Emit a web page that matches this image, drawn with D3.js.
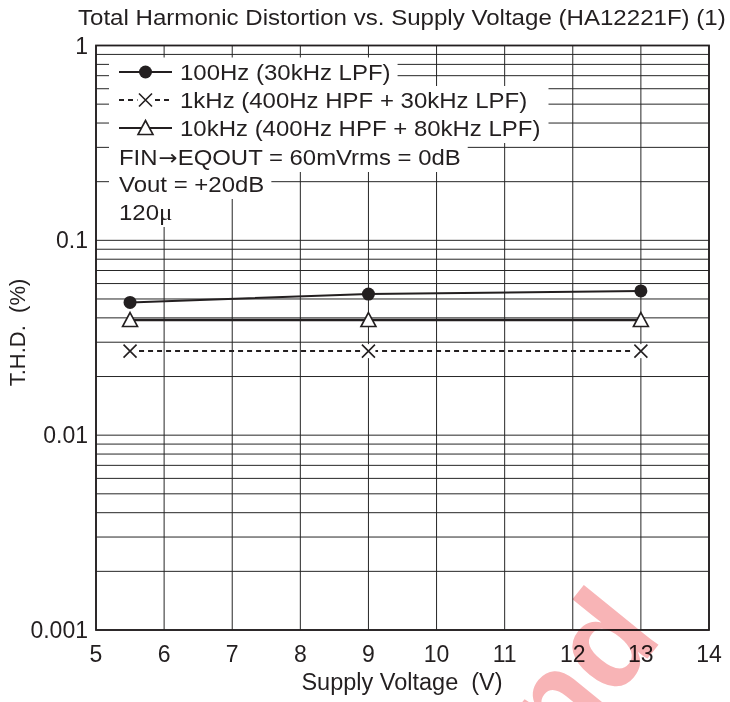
<!DOCTYPE html>
<html>
<head>
<meta charset="utf-8">
<script src="https://cdn.jsdelivr.net/npm/d3@7"></script>
<style>
  html, body { margin: 0; padding: 0; background: #fff; }
  svg { display: block; }
  text { font-family: "Liberation Sans", Arial, Helvetica, sans-serif; fill: #231f20; white-space: pre; }
</style>
</head>
<body>
<svg id="chart" width="730" height="702"></svg>
<script>
// ---- data ----
const voltages = [5.5, 9, 13];
const thd100Hz = [0.048, 0.053, 0.055];
const thd1kHz = [0.027, 0.027, 0.027];
const thd10kHz = [0.039, 0.039, 0.039];
const xTicks = [5, 6, 7, 8, 9, 10, 11, 12, 13, 14];
const yTicks = [0.001, 0.01, 0.1, 1];
const yTickLabels = ["0.001", "0.01", "0.1", "1"];
const seriesLabels = ["100Hz (30kHz LPF)", "1kHz (400Hz HPF + 30kHz LPF)", "10kHz (400Hz HPF + 80kHz LPF)"];
// note lines split in parts: [text, special-font flag]
const noteLines = [
  [["FIN", 0], ["\u2192", 1], ["EQOUT = 60mVrms = 0dB", 0]],
  [["Vout = +20dB", 0]],
  [["120", 0], ["\u03bc", 2]]
];
const titleText = "Total Harmonic Distortion vs. Supply Voltage (HA12221F) (1)";
const xLabel = "Supply Voltage  (V)";
const yLabel = "T.H.D.  (%)";

// ---- layout ----
const svg = d3.select("#chart");
const L = 96, R = 709, T = 45.5, B = 630;
const x = d3.scaleLinear().domain([5, 14]).range([L, R]);
const y = d3.scaleLog().domain([0.001, 1]).range([B, T]);
const ink = "#231f20";

function stretch(sel, f) {
  sel.each(function () {
    const w = this.getComputedTextLength();
    d3.select(this).attr("textLength", w * f).attr("lengthAdjust", "spacingAndGlyphs");
  });
}

// minor grid values
const minor = [];
for (let e = -3; e < 0; e++) {
  for (let m = 2; m <= 9; m++) minor.push(m * Math.pow(10, e));
}

const grid = svg.append("g");
grid.selectAll("line.h").data(minor.concat(yTicks)).join("line")
  .attr("x1", L).attr("x2", R)
  .attr("y1", d => y(d)).attr("y2", d => y(d))
  .attr("stroke", "#262626").attr("stroke-width", 1);
grid.selectAll("line.v").data(xTicks).join("line")
  .attr("x1", d => x(d)).attr("x2", d => x(d))
  .attr("y1", T).attr("y2", B)
  .attr("stroke", "#262626").attr("stroke-width", 1);

// ---- legend (white boxes cover grid) ----
const legend = svg.append("g");
const rowBase = [80, 108, 136, 165, 192, 220];
const fs = 22;
const rows = [];
seriesLabels.forEach((s, i) => rows.push({ parts: [[s, 0]], x: 180, base: rowBase[i] }));
noteLines.forEach((p, i) => rows.push({ parts: p, x: 119, base: rowBase[i + 3] }));

const boxG = legend.append("g");
const txtG = legend.append("g");
const texts = txtG.selectAll("text").data(rows).join("text")
  .attr("x", d => d.x).attr("y", d => d.base)
  .attr("font-size", fs);
texts.each(function (d) {
  const t = d3.select(this);
  d.parts.forEach(p => {
    const ts = t.append("tspan").text(p[0]);
    if (p[1] === 1) ts.style("font-family", "'DejaVu Sans', sans-serif").attr("font-size", 21).attr("dx", 1);
    if (p[1] === 2) ts.style("font-family", "'Liberation Serif', 'Times New Roman', serif").attr("font-size", 23);
  });
});
stretch(texts, 1.09);
const ends = [];
texts.each(function (d, i) {
  const bb = this.getBBox();
  ends[i] = bb.x + bb.width;
});
const ends23 = Math.max(ends[1], ends[2]);
const boxes = rows.map((d, i) => {
  let right = ends[i] + 7;
  if (i === 1 || i === 2) right = ends23 + 8;
  const top = i === 0 ? 57.5 : rowBase[i - 1] + 6;
  const bottom = d.base + 7;
  return { x0: 109, x1: right, y0: top, y1: bottom };
});
boxG.selectAll("rect").data(boxes).join("rect")
  .attr("x", d => d.x0).attr("y", d => d.y0)
  .attr("width", d => d.x1 - d.x0).attr("height", d => d.y1 - d.y0)
  .attr("fill", "#fff");

// legend samples
const sx0 = 119, sx1 = 172, smid = 145.5;
const sampG = legend.append("g");
[0, 1, 2].forEach(i => {
  const cy = rowBase[i] - 8;
  sampG.append("line").attr("x1", sx0).attr("x2", sx1).attr("y1", cy).attr("y2", cy)
    .attr("stroke", ink).attr("stroke-width", i === 2 ? 2.2 : 2)
    .attr("stroke-dasharray", i === 1 ? "5,4" : null);
});

// ---- markers ----
function circle(g, cx, cy) {
  g.append("circle").attr("cx", cx).attr("cy", cy).attr("r", 6.5).attr("fill", ink);
}
function cross(g, cx, cy) {
  const s = 6.5;
  g.append("path").attr("d", `M${cx - s},${cy - s}L${cx + s},${cy + s}M${cx - s},${cy + s}L${cx + s},${cy - s}`)
    .attr("stroke", ink).attr("stroke-width", 1.6).attr("fill", "none");
}
function tri(g, cx, cy) {
  g.append("path").attr("d", `M${cx},${cy - 7.5}L${cx + 7.5},${cy + 6.5}L${cx - 7.5},${cy + 6.5}Z`)
    .attr("stroke", ink).attr("stroke-width", 1.6).attr("fill", "#fff");
}
circle(sampG, smid, rowBase[0] - 8);
sampG.append("rect").attr("x", smid - 8).attr("y", rowBase[1] - 16).attr("width", 16).attr("height", 16).attr("fill", "#fff");
cross(sampG, smid, rowBase[1] - 8);
tri(sampG, smid, rowBase[2] - 8);

// ---- frame ----
svg.append("rect").attr("x", L).attr("y", T).attr("width", R - L).attr("height", B - T)
  .attr("fill", "none").attr("stroke", ink).attr("stroke-width", 1.8);

// ---- series ----
const lineGen = d3.line().x(d => x(d[0])).y(d => y(d[1]));
const dataG = svg.append("g");
const s100 = voltages.map((v, i) => [v, thd100Hz[i]]);
const s1k = voltages.map((v, i) => [v, thd1kHz[i]]);
const s10k = voltages.map((v, i) => [v, thd10kHz[i]]);
dataG.append("path").attr("d", lineGen(s1k)).attr("fill", "none").attr("stroke", ink)
  .attr("stroke-width", 2).attr("stroke-dasharray", "5,4");
dataG.append("path").attr("d", lineGen(s10k)).attr("fill", "none").attr("stroke", ink).attr("stroke-width", 2.4);
dataG.append("path").attr("d", lineGen(s100)).attr("fill", "none").attr("stroke", ink).attr("stroke-width", 2);
s100.forEach(d => circle(dataG, x(d[0]), y(d[1])));
s1k.forEach(d => {
  dataG.append("rect").attr("x", x(d[0]) - 7).attr("y", y(d[1]) - 7).attr("width", 14).attr("height", 14).attr("fill", "#fff");
  cross(dataG, x(d[0]), y(d[1]));
});
s10k.forEach(d => tri(dataG, x(d[0]), y(d[1])));

// ---- axes labels ----
svg.append("g").selectAll("text").data(xTicks).join("text")
  .attr("x", d => x(d)).attr("y", 662)
  .attr("text-anchor", "middle").attr("font-size", 23)
  .text(d => d);
svg.append("g").selectAll("text").data(yTicks).join("text")
  .attr("x", 88).attr("y", d => y(d) + 8)
  .attr("text-anchor", "end").attr("font-size", 23)
  .text((d, i) => yTickLabels[i]);

const tt = svg.append("text").attr("x", 78).attr("y", 25).attr("font-size", 21.5).text(titleText);
stretch(tt, 1.12);
svg.append("text").attr("x", 402).attr("y", 690).attr("text-anchor", "middle").attr("font-size", 23.5).text(xLabel);
svg.append("text").attr("transform", "translate(25,332.5) rotate(-90)")
  .attr("text-anchor", "middle").attr("font-size", 22).text(yLabel);

// ---- watermark (partial, as in the source scan) ----
svg.append("text").attr("transform", "translate(664,638) rotate(-51)")
  .attr("text-anchor", "end").attr("font-size", 132).attr("font-weight", "bold")
  .style("fill", "rgb(248,180,182)").style("mix-blend-mode", "multiply")
  .text("nd");
</script>
</body>
</html>
